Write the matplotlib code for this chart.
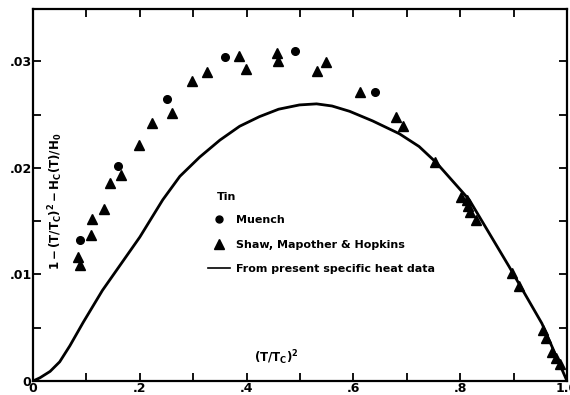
import matplotlib
matplotlib.use('Agg')
import matplotlib.pyplot as plt
from matplotlib.lines import Line2D

# data, x = (T/Tc)^2
muench_x = [0.088, 0.159, 0.250, 0.360, 0.490, 0.641]
muench_y = [0.0132, 0.0202, 0.0265, 0.0304, 0.0310, 0.0271]

shaw_x = [0.084, 0.088, 0.108, 0.110, 0.133, 0.144, 0.164, 0.198, 0.222, 0.260,
          0.297, 0.325, 0.385, 0.398, 0.456, 0.458, 0.531, 0.548, 0.613, 0.680,
          0.693, 0.753, 0.802, 0.813, 0.815, 0.819, 0.830, 0.897, 0.910, 0.955,
          0.961, 0.972, 0.979, 0.987]
shaw_y = [0.0116, 0.0109, 0.0137, 0.0152, 0.0161, 0.0186, 0.0193, 0.0221, 0.0242, 0.0251,
          0.0281, 0.0290, 0.0305, 0.0293, 0.0308, 0.0300, 0.0291, 0.0299, 0.0271, 0.0248,
          0.0239, 0.0205, 0.0173, 0.0170, 0.0164, 0.0159, 0.0151, 0.0101, 0.0089, 0.0048,
          0.0040, 0.0027, 0.0022, 0.0016]

# curve "from present specific heat data"
heat_x = [0, 0.013, 0.032, 0.05, 0.069, 0.094, 0.13, 0.2, 0.243, 0.275, 0.312, 0.35, 0.387,
          0.424, 0.46, 0.499, 0.531, 0.56, 0.593, 0.636, 0.686, 0.723, 0.755, 0.817, 0.892,
          0.953, 1.0]
heat_y = [0, 0.0003, 0.0009, 0.0018, 0.0033, 0.0055, 0.0085, 0.0135, 0.0170, 0.0192, 0.0210,
          0.0226, 0.0239, 0.0248, 0.0255, 0.0259, 0.0260, 0.0258, 0.0253, 0.0244, 0.0232,
          0.0220, 0.0205, 0.0170, 0.0107, 0.0054, 0]

xticks = [0, 0.2, 0.4, 0.6, 0.8, 1.0]
xticklabels = ['0', '.2', '.4', '.6', '.8', '1.0']
yticks = [0, 0.01, 0.02, 0.03]
yticklabels = ['0', '.01', '.02', '.03']

plt.rcParams['font.family'] = 'DejaVu Sans'
plt.rcParams['mathtext.fontset'] = 'dejavusans'

fig = plt.figure(figsize=(5.7, 3.95), dpi=100)
ax = fig.add_axes([33 / 570, 14 / 395, 534 / 570, 372 / 395])

ax.plot(heat_x, heat_y, color='black', lw=2.0, solid_joinstyle='round')
ax.plot(shaw_x, shaw_y, '^', color='black', ms=7, ls='none')
ax.plot(muench_x, muench_y, 'o', color='black', ms=5.5, ls='none')

ax.set_xlim(0, 1.0)
ax.set_ylim(0, 0.0349)
ax.set_xticks(xticks)
ax.set_xticklabels(xticklabels)
ax.set_yticks(yticks)
ax.set_yticklabels(yticklabels)
ax.set_xticks([0.1, 0.3, 0.5, 0.7, 0.9], minor=True)
ax.set_yticks([0.005, 0.015, 0.025], minor=True)
ax.tick_params(which='both', direction='in', top=True, right=True, length=6, width=1.3,
               labelsize=9, pad=1)
for lab in ax.get_xticklabels() + ax.get_yticklabels():
    lab.set_fontweight('bold')
for s in ax.spines.values():
    s.set_linewidth(1.6)

ax.text(0.043, 0.484, r'$\mathregular{1-(T/T_C)^2-H_C(T)/H_0}$', transform=ax.transAxes,
        rotation=90, ha='center', va='center', fontsize=8.5, fontweight='bold')
ax.text(0.455, 0.062, r'$\mathregular{(T/T_C)^2}$', transform=ax.transAxes,
        ha='center', va='center', fontsize=8.5, fontweight='bold')

# legend
ax.text(0.345, 0.495, 'Tin', transform=ax.transAxes, ha='left', va='center',
        fontsize=8, fontweight='bold')
handles = [Line2D([], [], marker='o', color='black', ls='none', ms=5),
           Line2D([], [], marker='^', color='black', ls='none', ms=6.5),
           Line2D([], [], color='black', lw=1.2)]
labels = ['Muench', 'Shaw, Mapother & Hopkins', 'From present specific heat data']
leg = ax.legend(handles, labels, loc='upper left', bbox_to_anchor=(0.328, 0.446),
                frameon=False, fontsize=8, borderpad=0, borderaxespad=0,
                handlelength=2.0, handletextpad=0.5, labelspacing=1.3)
for t in leg.get_texts():
    t.set_fontweight('bold')

fig.savefig('out.png', dpi=100)
